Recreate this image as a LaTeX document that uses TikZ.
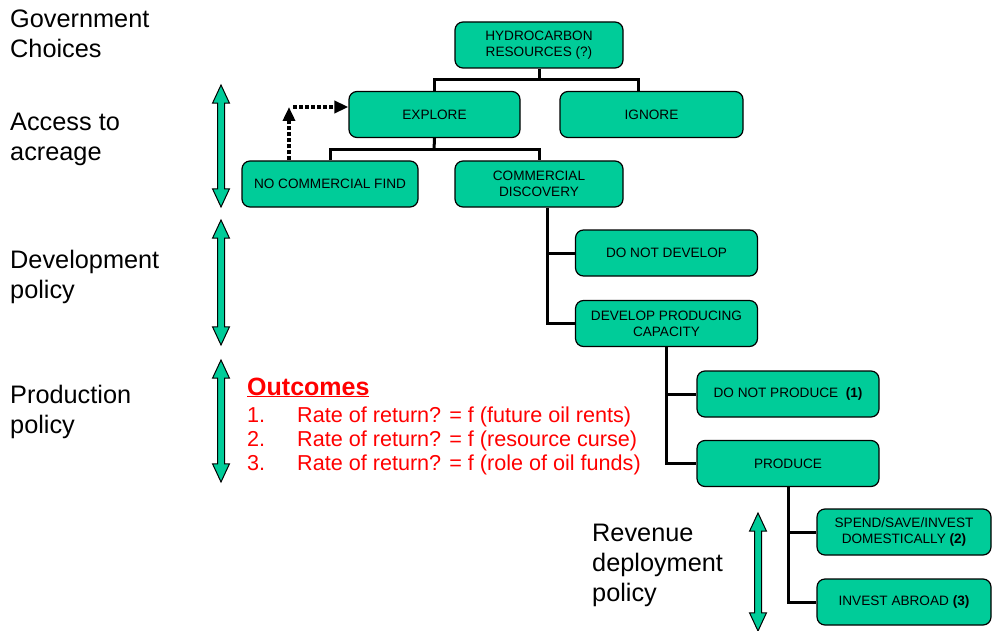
\documentclass[tikz,border=0pt]{standalone}
\usepackage{fontspec}
\setmainfont{Liberation Sans}
\usetikzlibrary{arrows.meta,shapes.arrows}
\definecolor{boxFill}{HTML}{00CC99}
\definecolor{outRed}{HTML}{FF0000}
\tikzset{
  box/.style  ={draw, rounded corners=8pt, fill=boxFill, align=center, line width=1.2pt,
                minimum height=46pt, inner sep=2pt, font=\fontsize{13.6}{16}\selectfont},
  lab/.style  ={anchor=west, align=left, inner sep=0pt, font=\fontsize{25.3}{30}\selectfont},
  outl/.style ={anchor=base west, inner sep=0pt, text=outRed, font=\fontsize{21.6}{24}\selectfont},
  tree/.style ={line width=3pt},
  darr/.style ={-{Triangle[length=14pt,width=12pt]}, line width=3.8pt, dash pattern=on 4pt off 2pt},
  updown/.style={double arrow, draw, fill=boxFill, line width=1pt, rotate=90, inner sep=3pt,
                double arrow head extend=5pt, double arrow tip angle=50, minimum width=16pt},
}
\begin{document}
\begin{tikzpicture}[x=1pt, y=-1pt]
  \useasboundingbox (0,0) rectangle (992,631);

  % government choices (left column)
  \node[lab] (gov)  at (10,34)  {Government\\Choices};
  \node[lab] (acc)  at (10,139) {Access to\\acreage};
  \node[lab] (dev)  at (10,277) {Development\\policy};
  \node[lab] (prodp) at (10,412) {Production\\policy};
  \node[lab] (rev)  at (592,565) {Revenue\\deployment\\policy};

  \node[updown, minimum height=122pt] (a1) at (221,146)   {};
  \node[updown, minimum height=125pt] (a2) at (221,282.5) {};
  \node[updown, minimum height=122pt] (a3) at (221,421)   {};
  \node[updown, minimum height=118pt] (a4) at (758,572)   {};

  % decision tree
  \node[box, minimum width=168pt] (hydro)   at (539,45)    {HYDROCARBON\\RESOURCES (?)};
  \node[box, minimum width=171pt] (explore) at (434.5,114.5) {EXPLORE};
  \node[box, minimum width=183pt] (ignore)  at (651.5,114.5) {IGNORE};
  \node[box, minimum width=176pt] (ncf)     at (330,184)   {NO COMMERCIAL FIND};
  \node[box, minimum width=168pt] (cd)      at (539,184)   {COMMERCIAL\\DISCOVERY};
  \node[box, minimum width=182pt] (dnd)     at (666.5,253) {DO NOT DEVELOP};
  \node[box, minimum width=182pt] (dpc)     at (666.5,323.5) {DEVELOP PRODUCING\\CAPACITY};
  \node[box, minimum width=182pt] (dnp)     at (788,394)   {DO NOT PRODUCE \ \textbf{(1)}};
  \node[box, minimum width=182pt] (prod)    at (788,463.5) {PRODUCE};
  \node[box, minimum width=174pt] (spend)   at (904,532)   {SPEND/SAVE/INVEST\\DOMESTICALLY \textbf{(2)}};
  \node[box, minimum width=174pt] (abroad)  at (904,602)   {INVEST ABROAD \textbf{(3)}};

  \coordinate (hsplit) at (539,80);
  \coordinate (esplit) at (434,150);
  \draw[tree] (hydro.south) -- (hsplit);
  \draw[tree] (explore.north) |- (hsplit) -| ([xshift=-13pt]ignore.north);
  \draw[tree] (explore.south) -- (esplit);
  \draw[tree] (ncf.north) |- (esplit) -| (cd.north);
  \draw[tree] ([xshift=8pt]cd.south) |- (dpc.west);
  \draw[tree] ([xshift=8pt]cd.south |- dnd.west) -- (dnd.west);
  \draw[tree] (dpc.south) |- (prod.west);
  \draw[tree] (dpc.south |- dnp.west) -- (dnp.west);
  \draw[tree] (prod.south) |- (abroad.west);
  \draw[tree] (prod.south |- spend.west) -- (spend.west);

  % no find -> explore again
  \coordinate (loop) at (289,107);
  \draw[darr] ([xshift=-41pt]ncf.north) -- (loop);
  \draw[darr] ([xshift=4pt]loop) -- (explore.west |- loop);

  % outcomes
  \node[outl, font=\fontsize{25}{28}\selectfont\bfseries] (outc) at (247,395) {\underline{Outcomes}};
  \foreach \n/\t in {1/future oil rents, 2/resource curse, 3/role of oil funds} {
    \node[outl] (num\n) at (247,{398+24*\n}) {\n.};
    \node[outl] (out\n) at (297,{398+24*\n}) {Rate of return? = f (\t)};
  }
\end{tikzpicture}
\end{document}
